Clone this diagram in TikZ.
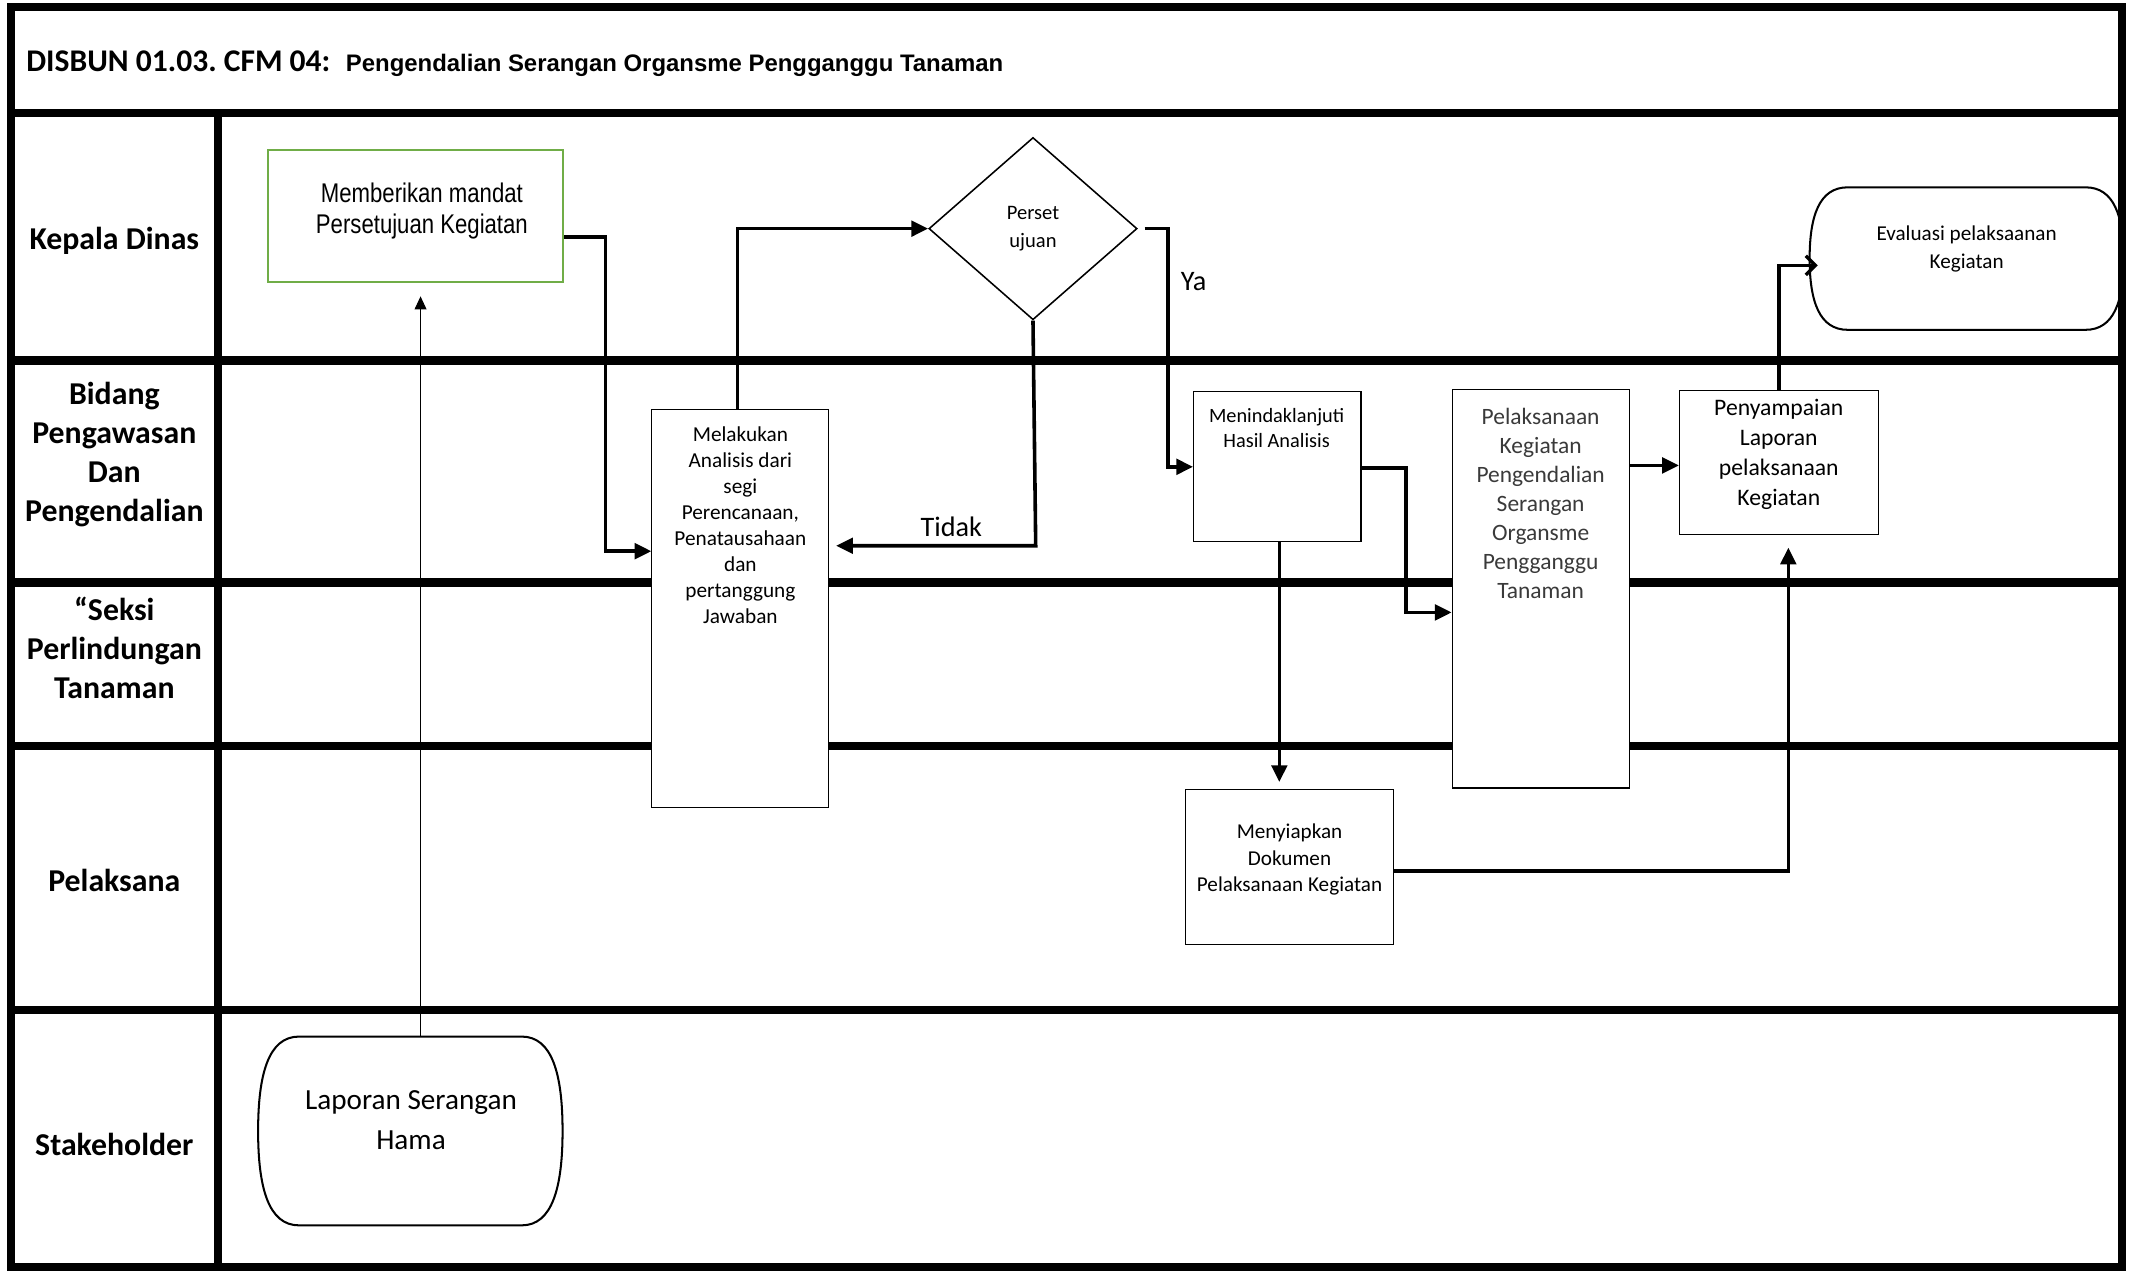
\documentclass[tikz,border=0pt]{standalone}
\usepackage{fontspec}
\setmainfont{Carlito}
\newfontfamily\arialfont{Liberation Sans}
\newfontfamily\narrowfont[FakeStretch=0.82]{Liberation Sans}
\usetikzlibrary{arrows.meta,fit,shapes.geometric,calc}
\frenchspacing

\definecolor{boxgreen}{HTML}{70AD47}
\definecolor{softtext}{HTML}{3A3A3A}

\tikzset{
  lane/.style={line width=3.5pt},
  box/.style={draw, line width=0.45pt, fill=white, inner sep=0pt, align=center},
  txt/.style={align=center, inner sep=0pt, font=\fontsize{8.9}{10.9}\selectfont},
  lanename/.style={align=center, inner sep=0pt, font=\bfseries\fontsize{13.3}{16.3}\selectfont},
  flow/.style={line width=1.5pt, -{Triangle[length=7pt,width=6.5pt]}},
  thinflow/.style={line width=0.45pt, -{Triangle[length=5.5pt,width=5pt]}},
  termline/.style={line width=0.85pt, fill=white},
}

% terminal outline round a fitted node: name, side inset, half height
\newcommand\terminal[3]{%
  \draw[termline] ($(#1.north west)+(#2,0)$) -- ($(#1.north east)+(-#2,0)$)
    .. controls ($(#1.north east)+(-0.25*#2,0)$) and ($(#1.east)+(0,-0.6*#3)$) .. (#1.east)
    .. controls ($(#1.east)+(0,0.6*#3)$) and ($(#1.south east)+(-0.25*#2,0)$) .. ($(#1.south east)+(-#2,0)$)
    -- ($(#1.south west)+(#2,0)$)
    .. controls ($(#1.south west)+(0.25*#2,0)$) and ($(#1.west)+(0,0.6*#3)$) .. (#1.west)
    .. controls ($(#1.west)+(0,-0.6*#3)$) and ($(#1.north west)+(0.25*#2,0)$) .. cycle;}

\begin{document}
\begin{tikzpicture}[x=0.02cm, y=-0.02cm]
    \useasboundingbox (0,0) rectangle (1568,935);

    % lanes
    \foreach \y in {83,265,428,548,742}
        \draw[lane] (8,\y) -- (1559,\y);
    \draw[lane] (160,83) -- (160,931);

    \node[anchor=west, inner sep=0pt] (judul) at (19,47)
        {\bfseries\fontsize{13.2}{15}\selectfont DISBUN 01.03. CFM 04:\hspace{6.5pt}{\arialfont\fontsize{10}{12}\selectfont Pengendalian Serangan Organsme Pengganggu Tanaman}};

    \node[lanename] (kepala) at (84,177) {Kepala Dinas};
    \node[lanename] (bidang) at (84,334) {Bidang\\Pengawasan\\Dan\\Pengendalian};
    \node[lanename] (seksi) at (84,476) {“Seksi\\Perlindungan\\Tanaman};
    \node[lanename] (pelaksana) at (84,647) {Pelaksana};
    \node[lanename] (stake) at (84,841) {Stakeholder};

    % steps
    \node[box, draw=boxgreen, line width=0.85pt, fit={(197,110) (414,207)}] (mandat) {};
    \node[txt, font=\narrowfont\fontsize{11.3}{13}\selectfont] (mandatT) at (310,155) {Memberikan mandat\\Persetujuan Kegiatan};

    \node[box, fit={(479,301) (609,593)}] (analisis) {};
    \node[txt] (analisisT) at (544,386) {Melakukan\\Analisis dari\\segi\\Perencanaan,\\Penatausahaan\\dan\\pertanggung\\Jawaban};

    \node[draw, diamond, line width=0.65pt, fill=white, minimum width=3.06cm, minimum height=2.68cm, inner sep=0pt,
          align=center, font=\fontsize{8.6}{11.4}\selectfont] (setuju) at (759,168) {Perset\\ujuan};

    \node[box, fit={(877,288) (1000,398)}] (tindak) {};
    \node[txt, font=\fontsize{8.5}{10.8}\selectfont] (tindakT) at (938,314.5) {Menindaklanjuti\\Hasil Analisis};

    \node[box, fit={(1067,286) (1197,579)}] (pelaksanaan) {};
    \node[txt, text=softtext, font=\fontsize{9.8}{12.1}\selectfont] (pelaksanaanT) at (1132,370)
        {Pelaksanaan\\Kegiatan\\Pengendalian\\Serangan\\Organsme\\Pengganggu\\Tanaman};

    \node[box, fit={(1234,287) (1380,393)}, font=\fontsize{9.9}{12.5}\selectfont] (sampai)
        {Penyampaian\\Laporan\\pelaksanaan\\Kegiatan};

    \node[box, fit={(871,580) (1024,694)}, font=\fontsize{8.85}{11.1}\selectfont] (siap)
        {Menyiapkan\\Dokumen\\Pelaksanaan Kegiatan};

    \node[fit={(1330,138) (1560,242)}, inner sep=0pt] (evaluasi) {};
    \terminal{evaluasi}{28}{52}
    \node[txt, font=\fontsize{8.85}{11.4}\selectfont] (evaluasiT) at (1445,183) {Evaluasi pelaksaanan\\Kegiatan};

    \node[fit={(190,762) (413,900)}, inner sep=0pt] (laporan) {};
    \terminal{laporan}{30}{69}
    \node[txt, font=\fontsize{12.2}{16.5}\selectfont] (laporanT) at (302,823) {Laporan Serangan\\Hama};

    % connectors
    \draw[thinflow, shorten >=0.2cm] (laporan.north -| 309,0) -- (mandat.south -| 309,0);
    \draw[flow] (mandat.east |- 0,174) -- (445,174) |- (analisis.west |- 0,405);
    \draw[flow] (analisis.north -| 542,0) |- (setuju.west);
    \draw[flow, shorten >=0.1cm] (setuju.south) -- (761,401) -- (analisis.east |- 0,401);
    \node[font=\fontsize{11.8}{14}\selectfont] (tidak) at (699,387) {Tidak};
    \draw[flow] ([xshift=0.1cm]setuju.east) -- (858,168) |- (tindak.west |- 0,343);
    \node[font=\fontsize{11.8}{14}\selectfont] (ya) at (877,207) {Ya};
    \draw[flow] (tindak.east |- 0,344) -- (1033,344) |- (pelaksanaan.west |- 0,450);
    \draw[flow, shorten >=0.1cm] (tindak.south -| 940,0) -- (siap.north -| 940,0);
    \draw[flow] (pelaksanaan.east |- 0,342) -- (sampai.west |- 0,342);
    \draw[flow, shorten >=0.18cm] (siap.east |- 0,640) -| (sampai.south -| 1314,0);
    \draw[line width=1.5pt, -{Straight Barb[length=4pt,width=8pt,line width=1.4pt]}]
        (sampai.north) |- ($(evaluasi.west |- 0,195)+(6,0)$);

    % frame
    \draw[lane] (8,5) rectangle (1559,931);
\end{tikzpicture}
\end{document}
